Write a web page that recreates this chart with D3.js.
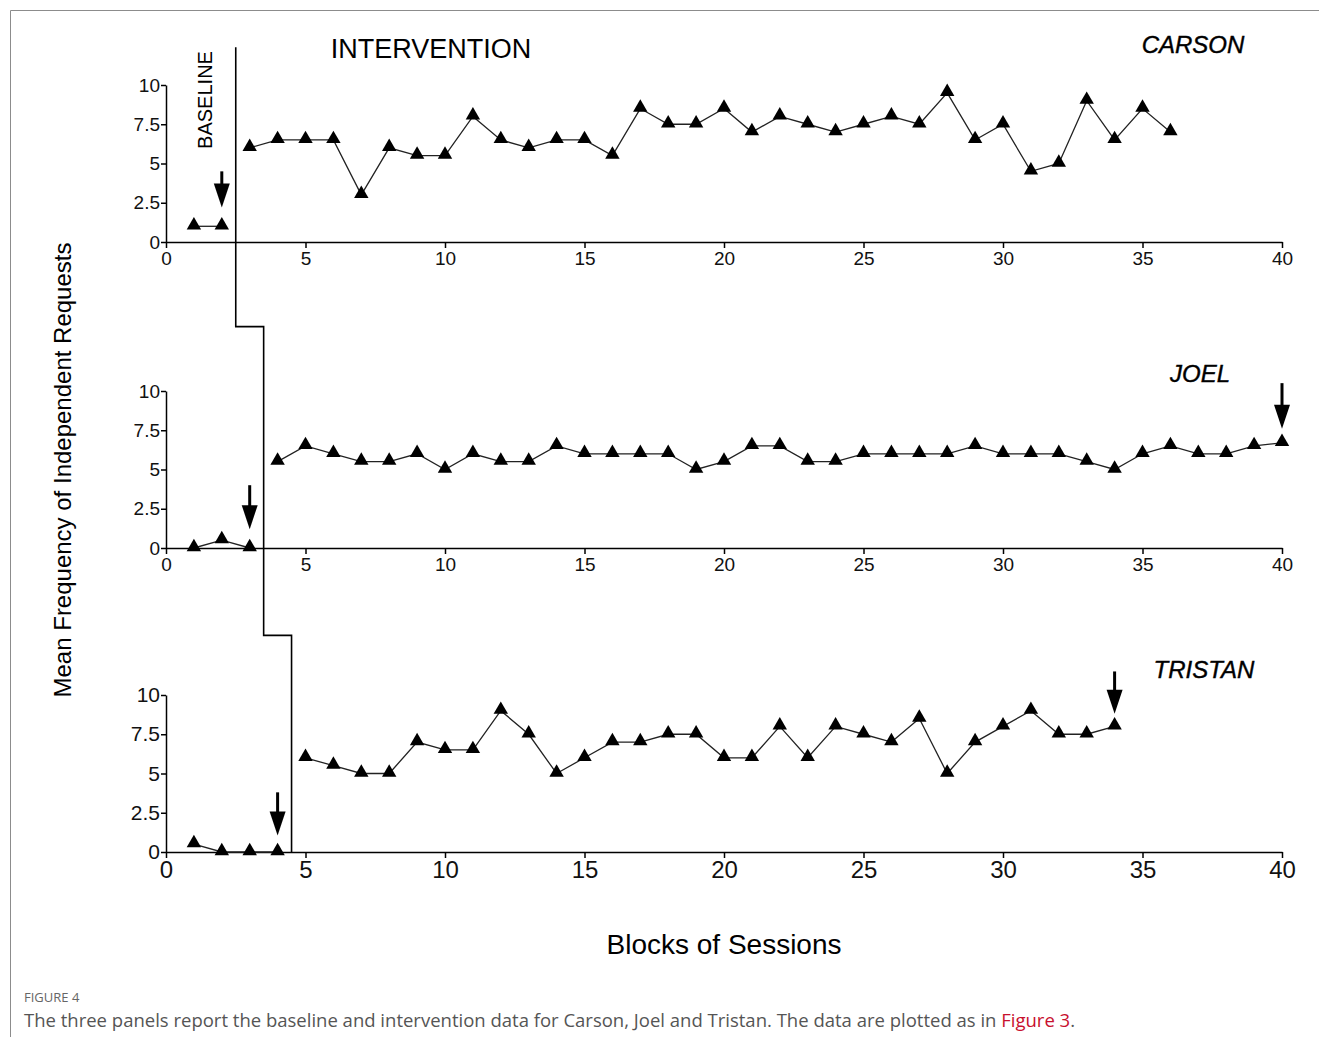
<!DOCTYPE html>
<html>
<head>
<meta charset="utf-8">
<script src="https://cdn.jsdelivr.net/npm/d3@7"></script>
<style>
  body { margin: 0; background: #fff; }
  svg { display: block; }
  .axis path, .axis line { stroke: #000; stroke-width: 1.5; }
  .axis text { font-family: "Liberation Sans", Arial, sans-serif; fill: #111; }
</style>
</head>
<body>
<svg id="chart" width="1319" height="1037"></svg>
<script>
// x tick labels and y tick labels
var xTicks = [0, 5, 10, 15, 20, 25, 30, 35, 40];
var yTicks = [0, 2.5, 5, 7.5, 10];
var yTickLabels = ['0', '2.5', '5', '7.5', '10'];

// Carson: baseline sessions 1-2, intervention 3-36
var carsonBaseline = [1, 1];
var carsonIntervention = [6, 6.5, 6.5, 6.5, 3, 6, 5.5, 5.5, 8, 6.5, 6, 6.5, 6.5, 5.5, 8.5, 7.5, 7.5,
  8.5, 7, 8, 7.5, 7, 7.5, 8, 7.5, 9.5, 6.5, 7.5, 4.5, 5, 9, 6.5, 8.5, 7];

// Joel: baseline 1-3, intervention 4-40
var joelBaseline = [0, 0.5, 0];
var joelIntervention = [5.5, 6.5, 6, 5.5, 5.5, 6, 5, 6, 5.5, 5.5, 6.5, 6, 6, 6, 6, 5, 5.5, 6.5, 6.5,
  5.5, 5.5, 6, 6, 6, 6, 6.5, 6, 6, 6, 5.5, 5, 6, 6.5, 6, 6, 6.5, 6.7];

// Tristan: baseline 1-4, intervention 5-34
var tristanBaseline = [0.5, 0, 0, 0];
var tristanIntervention = [6, 5.5, 5, 5, 7, 6.5, 6.5, 9, 7.5, 5, 6, 7, 7, 7.5, 7.5, 6, 6, 8, 6, 8,
  7.5, 7, 8.5, 5, 7, 8, 9, 7.5, 7.5, 8];

var names = ['CARSON', 'JOEL', 'TRISTAN'];
var baselines = [carsonBaseline, joelBaseline, tristanBaseline];
var interventions = [carsonIntervention, joelIntervention, tristanIntervention];
var phaseChange = [2.5, 3.5, 4.5];

// arrows: session, top value, tip value
var arrows = [
  [{ x: 2, top: 4.5, tip: 2.2 }],
  [{ x: 3, top: 4.0, tip: 1.2 }, { x: 40, top: 10.5, tip: 7.6 }],
  [{ x: 4, top: 3.8, tip: 1.05 }, { x: 34, top: 11.5, tip: 8.8 }]
];

var svg = d3.select('#chart');
var font = '"Liberation Sans", Arial, sans-serif';

// figure frame
svg.append('path')
  .attr('d', 'M10.5,1037 L10.5,10.5 L1319,10.5')
  .attr('fill', 'none')
  .attr('stroke', '#8c8c8c')
  .attr('stroke-width', 1);

var x = d3.scaleLinear().domain([0, 40]).range([166, 1282]);
var panelBottoms = [242, 548, 852];
var ys = panelBottoms.map(function(b) {
  return d3.scaleLinear().domain([0, 10]).range([b, b - 157]);
});

var tri = d3.symbol().type(d3.symbolTriangle).size(90);

ys.forEach(function(y, p) {
  var g = svg.append('g');
  var fs = p == 2 ? 24 : 19;

  var xAxis = g.append('g')
    .attr('class', 'axis')
    .attr('transform', 'translate(0,' + y(0) + ')')
    .call(d3.axisBottom(x).tickValues(xTicks).tickSize(6).tickSizeOuter(0).tickFormat(d3.format('d')));
  xAxis.selectAll('text').style('font-size', fs + 'px').attr('dy', '0.72em');

  var yAxis = g.append('g')
    .attr('class', 'axis')
    .attr('transform', 'translate(' + x(0) + ',0)')
    .call(d3.axisLeft(y).tickValues(yTicks).tickSize(5).tickSizeOuter(0)
      .tickFormat(function(d, i) { return yTickLabels[i]; }));
  yAxis.selectAll('text').style('font-size', (p == 2 ? 21 : 19) + 'px').attr('x', -6);

  var line = d3.line()
    .x(function(d) { return x(d[0]); })
    .y(function(d) { return y(d[1]); });

  var base = baselines[p].map(function(v, i) { return [i + 1, v]; });
  var start = baselines[p].length + 1;
  var inter = interventions[p].map(function(v, i) { return [start + i, v]; });

  [base, inter].forEach(function(seg) {
    g.append('path')
      .attr('d', line(seg))
      .attr('fill', 'none')
      .attr('stroke', '#222')
      .attr('stroke-width', 1.3);

    g.selectAll(null)
      .data(seg)
      .enter()
      .append('path')
      .attr('d', tri)
      .attr('transform', function(d) { return 'translate(' + x(d[0]) + ',' + (y(d[1]) - 1) + ')'; })
      .attr('fill', '#000');
  });

  // arrows
  arrows[p].forEach(function(a) {
    var ax = x(a.x), tipY = y(a.tip), headY = tipY - 24;
    g.append('line')
      .attr('x1', ax).attr('x2', ax)
      .attr('y1', y(a.top)).attr('y2', headY + 2)
      .attr('stroke', '#000')
      .attr('stroke-width', 3);
    g.append('path')
      .attr('d', 'M' + (ax - 8) + ',' + headY + 'L' + (ax + 8) + ',' + headY + 'L' + ax + ',' + tipY + 'Z')
      .attr('fill', '#000');
  });
});

// name labels
var nameSpots = [[1193, 53], [1200, 382], [1204, 678]];
names.forEach(function(n, i) {
  svg.append('text')
    .attr('x', nameSpots[i][0])
    .attr('y', nameSpots[i][1])
    .attr('text-anchor', 'middle')
    .style('font-family', font)
    .style('font-style', 'italic')
    .style('font-size', '24px')
    .style('stroke', '#000')
    .style('stroke-width', 0.4)
    .text(n);
});

// phase change line (stepped across panels)
var phasePts = [
  [phaseChange[0], ys[0](12.4)],
  [phaseChange[0], ys[1](14.1)],
  [phaseChange[1], ys[1](14.1)],
  [phaseChange[1], ys[2](13.8)],
  [phaseChange[2], ys[2](13.8)],
  [phaseChange[2], ys[2](0)]
];
svg.append('path')
  .attr('d', d3.line().x(function(d) { return x(d[0]); }).y(function(d) { return d[1]; })(phasePts))
  .attr('fill', 'none')
  .attr('stroke', '#000')
  .attr('stroke-width', 1.6);

// phase titles
svg.append('text')
  .attr('x', 431).attr('y', 58)
  .attr('text-anchor', 'middle')
  .style('font-family', font)
  .style('font-size', '27px')
  .text('INTERVENTION');

svg.append('text')
  .attr('transform', 'translate(212,100) rotate(-90)')
  .attr('text-anchor', 'middle')
  .style('font-family', font)
  .style('font-size', '20px')
  .text('BASELINE');

// axis titles
svg.append('text')
  .attr('transform', 'translate(71,470) rotate(-90)')
  .attr('text-anchor', 'middle')
  .style('font-family', font)
  .style('font-size', '24px')
  .text('Mean Frequency of Independent Requests');

svg.append('text')
  .attr('x', 724).attr('y', 954)
  .attr('text-anchor', 'middle')
  .style('font-family', font)
  .style('font-size', '28px')
  .text('Blocks of Sessions');

// caption
svg.append('text')
  .attr('x', 24).attr('y', 1002)
  .style('font-family', '"Open Sans", sans-serif')
  .style('font-size', '13px')
  .style('fill', '#666')
  .text('FIGURE 4');

var cap = svg.append('text')
  .attr('x', 24).attr('y', 1027)
  .style('font-family', '"Open Sans", sans-serif')
  .style('font-size', '18.5px')
  .style('fill', '#555');
cap.append('tspan').text('The three panels report the baseline and intervention data for Carson, Joel and Tristan. The data are plotted as in ');
cap.append('tspan').style('fill', '#c8102e').text('Figure 3');
cap.append('tspan').text('.');
</script>
</body>
</html>
